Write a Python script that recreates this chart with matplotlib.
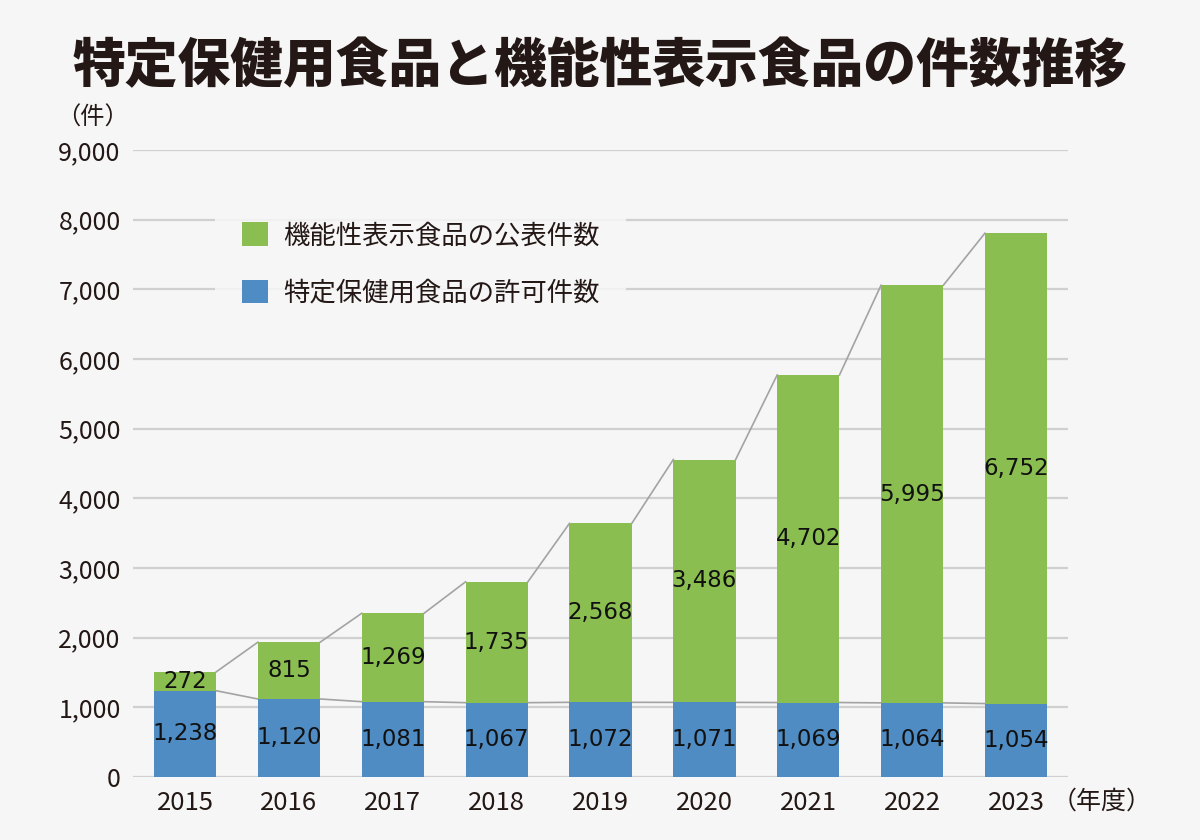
import matplotlib
matplotlib.use('Agg')
import matplotlib.pyplot as plt
import numpy as np

# data
years = ['2015', '2016', '2017', '2018', '2019', '2020', '2021', '2022', '2023']
tokuho = [1238, 1120, 1081, 1067, 1072, 1071, 1069, 1064, 1054]
kinousei = [272, 815, 1269, 1735, 2568, 3486, 4702, 5995, 6752]
yticks = [0, 1000, 2000, 3000, 4000, 5000, 6000, 7000, 8000, 9000]

label_green = '機能性表示食品の公表件数'
label_blue = '特定保健用食品の許可件数'
title = '特定保健用食品と機能性表示食品の件数推移'

jp = ['Noto Sans CJK JP', 'DejaVu Sans']
plt.rcParams['font.family'] = jp

bg = '#f6f6f6'
green = '#8bbe50'
blue = '#4f8cc3'
linec = '#a3a3a3'

fig = plt.figure(figsize=(12, 8.4), dpi=100, facecolor=bg)
ax = fig.add_axes([0.111, 0.075, 0.779, 0.7464], facecolor=bg)

x = np.arange(len(years))
w = 0.6
tokuho = np.array(tokuho)
kinousei = np.array(kinousei)
total = tokuho + kinousei

ax.bar(x, tokuho, w, color=blue, label=label_blue, zorder=3)
ax.bar(x, kinousei, w, bottom=tokuho, color=green, label=label_green, zorder=3)

# series lines joining bar tops
for tops in (tokuho, total):
    for i in range(len(x) - 1):
        ax.plot([x[i] + w / 2, x[i + 1] - w / 2], [tops[i], tops[i + 1]],
                color=linec, lw=1.2, zorder=2)

for i in range(len(x)):
    ax.text(x[i], tokuho[i] / 2, f'{tokuho[i]:,}', ha='center', va='center',
            fontsize=16.5, family='DejaVu Sans', color='#111111', zorder=4)
    ax.text(x[i], tokuho[i] + kinousei[i] / 2, f'{kinousei[i]:,}', ha='center',
            va='center', fontsize=16.5, family='DejaVu Sans', color='#111111', zorder=4)

ax.set_xlim(-0.5, 8.5)
ax.set_ylim(0, 9000)
ax.set_yticks(yticks)
ax.set_yticklabels([f'{v:,}' for v in yticks])
ax.set_xticks(x)
ax.set_xticklabels(years)
ax.tick_params(length=0, labelsize=18, labelcolor='#231815')
ax.tick_params(axis='x', labelsize=18.5, pad=9)
ax.tick_params(axis='y', pad=9)
ax.yaxis.grid(True, color='#d0d0d0', lw=1.6, zorder=0)
for s in ax.spines.values():
    s.set_visible(False)

h, l = ax.get_legend_handles_labels()
leg = ax.legend(h[::-1], l[::-1], loc='upper left', bbox_to_anchor=(0.088, 0.927),
                frameon=True, fontsize=19, handlelength=1.0, handleheight=1.0,
                handletextpad=0.55, labelspacing=1.15, borderpad=1.0, borderaxespad=0)
leg.get_frame().set_facecolor(bg)
leg.get_frame().set_edgecolor('none')
leg.get_frame().set_alpha(0.85)
for t in leg.get_texts():
    t.set_color('#231815')

fig.text(0.5, 0.921, title, ha='center', va='center', fontsize=38,
         fontweight='black', color='#231815')
fig.text(0.047, 0.86, '（件）', ha='left', va='center', fontsize=17.5, color='#231815')
fig.text(0.876, 0.046, '（年度）', ha='left', va='center', fontsize=18, color='#231815')

fig.savefig('out.png', dpi=100, facecolor=bg)
